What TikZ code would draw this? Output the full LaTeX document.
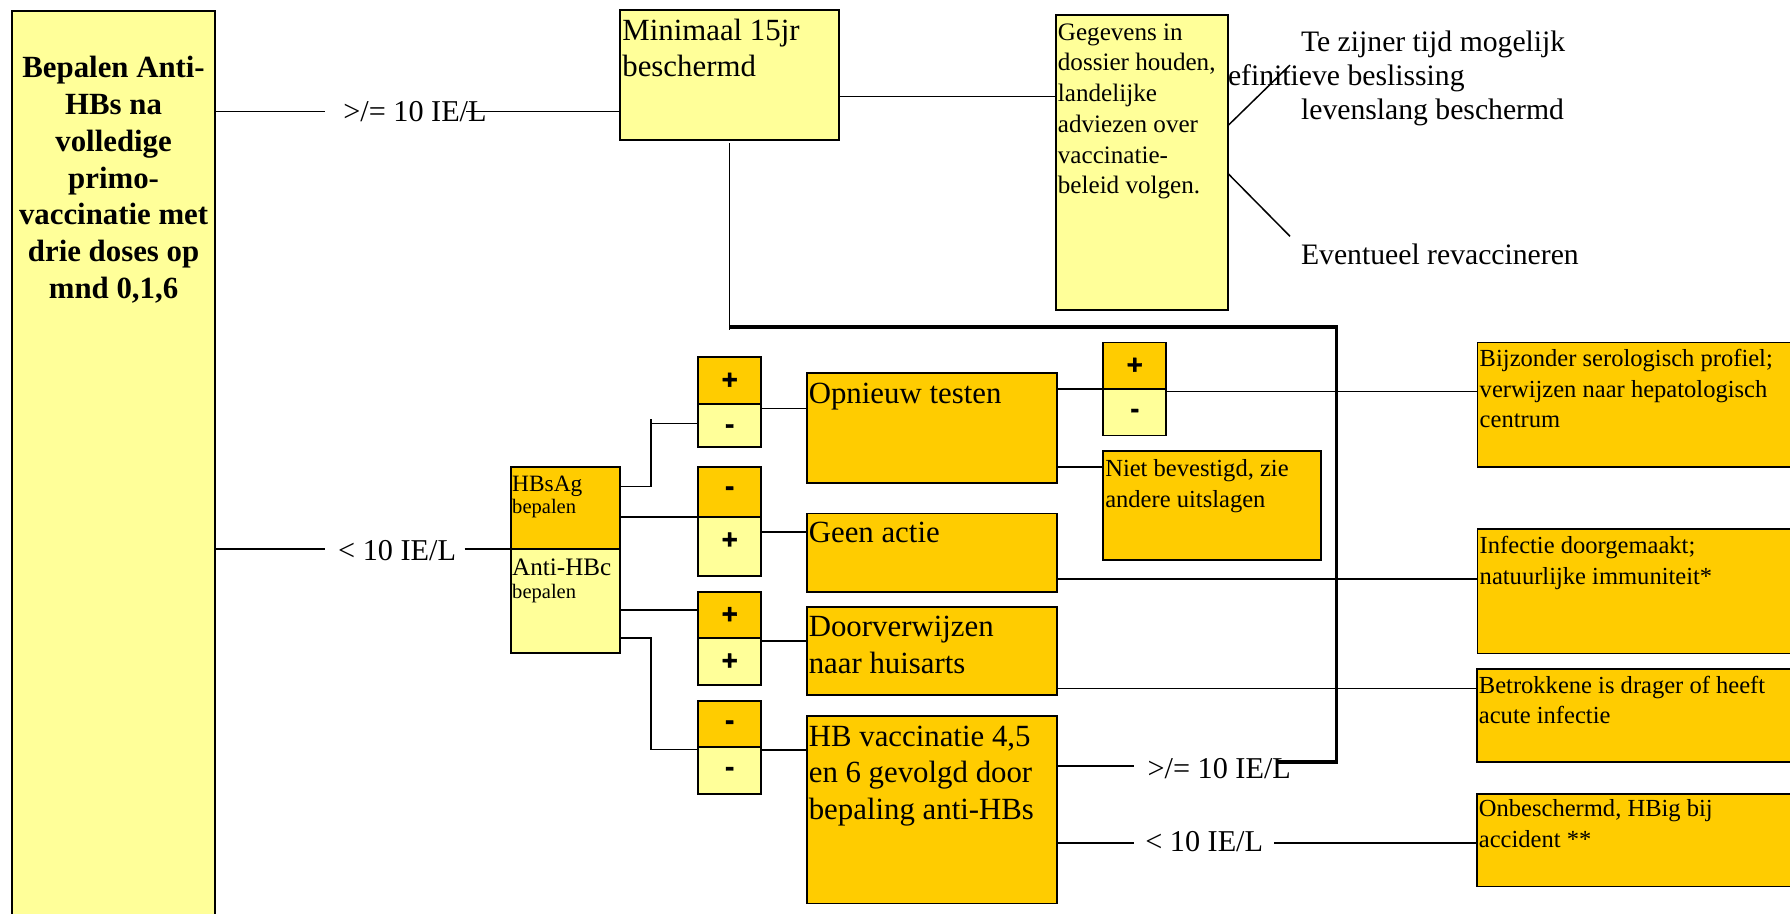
\documentclass[tikz,border=0pt]{standalone}
\usepackage{fontspec}
\setmainfont{Liberation Serif}
\newfontfamily\pmfont[FakeBold=1.6]{Liberation Sans Bold}
\definecolor{lyel}{HTML}{FFFF99}
\definecolor{oran}{HTML}{FFCC00}
\begin{document}
\begin{tikzpicture}[x=1pt,y=-1pt,
  box/.style={draw=black, line width=1.5pt, inner sep=0pt, outer sep=0pt, anchor=north west},
  yb/.style={box, fill=lyel},
  ob/.style={box, fill=oran},
  bigt/.style={anchor=north west, inner sep=0pt, align=left, font=\fontsize{27}{32}\selectfont},
  smlt/.style={anchor=north west, inner sep=0pt, align=left, font=\fontsize{21.5}{26.7}\selectfont},
  lbl/.style={anchor=base west, inner sep=0pt, font=\fontsize{26.5}{31}\selectfont},
  rtxt/.style={anchor=base west, inner sep=0pt, font=\fontsize{26}{31}\selectfont},
  conn/.style={line width=1.3pt},
  heavy/.style={line width=3pt, line join=miter},
  pmplus/.style={anchor=base, inner sep=0pt, yshift=-27.6pt, font=\pmfont\fontsize{24}{28}\selectfont},
  pmminus/.style={anchor=base, inner sep=0pt, yshift=-25.1pt, font=\pmfont\fontsize{24}{28}\selectfont}
]
\fill[white] (0,0) rectangle (1568,800);
\useasboundingbox (0,0) rectangle (1568,800);
\clip (0,0) rectangle (1568,800);

% free texts on the right (the d of definitieve hides behind the box)
\node[rtxt] (r1) at (1139.5,45.3) {Te zijner tijd mogelijk};
\node[rtxt] (r2) at (1062.5,74.5) {definitieve beslissing};
\node[rtxt] (r3) at (1139.5,105) {levenslang beschermd};
\node[rtxt] (r4) at (1139.5,232) {Eventueel revaccineren};

% boxes
\node[yb, minimum width=177.5pt, minimum height=830pt] (L) at (10.8,9.6) {};
\node[yb, minimum width=192pt, minimum height=113.8pt] (M) at (543,8.8) {};
\node[yb, minimum width=150.9pt, minimum height=258.4pt] (G) at (924.8,13.1) {};

\node[ob, minimum width=95.5pt, minimum height=72pt] (HB) at (447.5,409) {};
\node[yb, minimum width=95.5pt, minimum height=91.3pt] (AHB) at (447.5,481) {};

\node[ob, minimum width=54.9pt, minimum height=41.2pt] (g1a) at (611.7,313) {};
\node[yb, minimum width=54.9pt, minimum height=37.1pt] (g1b) at (611.7,354.2) {};
\node[ob, minimum width=54.9pt, minimum height=44.2pt] (g2a) at (611.7,408.8) {};
\node[yb, minimum width=54.9pt, minimum height=51.6pt] (g2b) at (611.7,453) {};
\node[ob, minimum width=54.9pt, minimum height=40.7pt] (g3a) at (611.7,518.3) {};
\node[yb, minimum width=54.9pt, minimum height=41pt] (g3b) at (611.7,559) {};
\node[ob, minimum width=54.9pt, minimum height=40.8pt] (g4a) at (611.7,613.8) {};
\node[yb, minimum width=54.9pt, minimum height=40.9pt] (g4b) at (611.7,654.6) {};

\node[ob, minimum width=219.4pt, minimum height=96pt] (O) at (706.6,327) {};
\node[ob, minimum width=219.4pt, minimum height=68.6pt] (GA) at (706.6,449.7) {};
\node[ob, minimum width=219.4pt, minimum height=77.6pt] (D) at (706.6,531.4) {};
\node[ob, minimum width=219.4pt, minimum height=164.3pt] (V) at (706.6,627.2) {};

\node[ob, minimum width=55.2pt, minimum height=40.9pt] (Pa) at (966.4,299.9) {};
\node[yb, minimum width=55.2pt, minimum height=40.8pt] (Pb) at (966.4,340.8) {};
\node[ob, minimum width=191pt, minimum height=95.5pt] (N) at (966.4,395) {};

\node[ob, minimum width=300pt, minimum height=108.9pt] (B) at (1294.3,299.9) {};
\node[ob, minimum width=300pt, minimum height=109.1pt] (I) at (1294.3,463.3) {};
\node[ob, minimum width=300pt, minimum height=81.2pt] (Bt) at (1293.5,586.3) {};
\node[ob, minimum width=300pt, minimum height=81.1pt] (On) at (1293.5,695.5) {};

% coordinates for connector bends and free ends
\coordinate (a1) at (284.3,97.8);
\coordinate (a2) at (408.5,97.8);
\coordinate (mg) at (800,84.7);
\coordinate (m2) at (638.7,289.5);
\coordinate (t1) at (700,286.5);
\coordinate (t2) at (1170.8,667.5);
\coordinate (t3) at (1118,667.5);
\coordinate (c1) at (284.7,481);
\coordinate (c2) at (407,481);
\coordinate (d1) at (570.4,426.3);
\coordinate (d2) at (570.4,367.3);
\coordinate (d3) at (570.4,370.8);
\coordinate (e1) at (600,534.3);
\coordinate (f1) at (570.4,559);
\coordinate (f2) at (570.4,656.5);
\coordinate (h1) at (680,357.7);
\coordinate (h2) at (680,466);
\coordinate (h3) at (680,561.5);
\coordinate (h4) at (680,657);
\coordinate (k0) at (1100,343);
\coordinate (k1) at (993.4,671);
\coordinate (k2) at (993.4,738.6);
\coordinate (k3) at (1116.4,738.6);
\coordinate (n1) at (940,409);
\coordinate (n2) at (1000,507);
\coordinate (n3) at (1000,603);
\coordinate (j1) at (1130,57);
\coordinate (j2) at (1130,207);
\coordinate (j1s) at (1000,110);
\coordinate (j2s) at (1000,152);

% connectors
\draw[conn] (L.east |- a1) -- (a1);
\draw[conn] (a2) -- (M.west |- a2);
\draw[conn] (M.east |- mg) -- (G.west |- mg);
\draw[conn] ([yshift=-2.5pt]M.south) -- (M.south |- m2);
\draw[heavy] (M.south |- t1) -| (t2) -- (t3);
\draw[conn] (G.east |- j1s) -- (j1);
\draw[conn] (G.east |- j2s) -- (j2);

\draw[conn] (L.east |- c1) -- (c1);
\draw[conn] (c2) -- (HB.south west);
\draw[conn] (HB.east |- d1) -- (d1) -- (d2);
\draw[conn] (d3) -- (g1b.west |- d3);
\draw[conn] (HB.east |- g2b.north) -- (g2b.north west);
\draw[conn] (AHB.east |- e1) -- (g3a.west |- e1);
\draw[conn] (AHB.east |- f1) -- (f1) -- (f2) -- (g4b.west |- f2);

\draw[conn] (g1b.east |- h1) -- (O.west |- h1);
\draw[conn] (g2b.east |- h2) -- (GA.west |- h2);
\draw[conn] (g3b.east |- h3) -- (D.west |- h3);
\draw[conn] (g4b.east |- h4) -- (V.west |- h4);

\draw[conn] (O.east |- Pb.north) -- (Pb.north west);
\draw[conn] (Pb.east |- k0) -- (B.west |- k0);
\draw[conn] (O.east |- n1) -- (N.west |- n1);
\draw[conn] (GA.east |- n2) -- (I.west |- n2);
\draw[conn] (D.east |- n3) -- (Bt.west |- n3);
\draw[conn] (V.east |- k1) -- (k1);
\draw[conn] (V.east |- k2) -- (k2);
\draw[conn] (k3) -- (On.west |- k3);

% labels on connectors
\node[lbl] (lab1) at (300.5,106.6) {>/= 10 IE/L};
\node[lbl] (lab2) at (296,490.6) {< 10 IE/L};
\node[lbl] (lab3) at (1005,681.8) {>/= 10 IE/L};
\node[lbl] (lab4) at (1003,746) {< 10 IE/L};

% texts in boxes
\node[anchor=north, inner sep=0pt, align=center, font=\bfseries\fontsize{27}{32.2}\selectfont] (Lt) at (99.5,45.5)
  {\strut Bepalen Anti-\\HBs na\\volledige\\primo-\\vaccinatie met\\drie doses op\\mnd 0,1,6};
\node[bigt] (Mt) at (545,12.6) {\strut Minimaal 15jr\\beschermd};
\node[anchor=north west, inner sep=0pt, align=left, font=\fontsize{22}{26.9}\selectfont] (Gt) at (926.5,16.2)
  {\strut Gegevens in\\dossier houden,\\landelijke\\adviezen over\\vaccinatie-\\beleid volgen.};

\node[anchor=base west, inner sep=0pt, font=\fontsize{20.5}{24}\selectfont] (HBt1) at (448.5,430.7) {HBsAg};
\node[anchor=base west, inner sep=0pt, font=\fontsize{18}{21}\selectfont] (HBt2) at (448.5,449.6) {bepalen};
\node[anchor=base west, inner sep=0pt, font=\fontsize{22}{26}\selectfont] (AHBt1) at (448.5,503.7) {Anti-HBc};
\node[anchor=base west, inner sep=0pt, font=\fontsize{18}{21}\selectfont] (AHBt2) at (448.5,524) {bepalen};

\node[pmplus] (s1) at (g1a.north) {+};
\node[pmminus] (s2) at (g1b.north) {-};
\node[pmminus] (s3) at (g2a.north) {-};
\node[pmplus] (s4) at (g2b.north) {+};
\node[pmplus] (s5) at (g3a.north) {+};
\node[pmplus] (s6) at (g3b.north) {+};
\node[pmminus] (s7) at (g4a.north) {-};
\node[pmminus] (s8) at (g4b.north) {-};
\node[pmplus] (s9) at (Pa.north) {+};
\node[pmminus] (s10) at (Pb.north) {-};

\node[bigt] (Ot) at (708.3,330.9) {\strut Opnieuw testen};
\node[bigt] (GAt) at (708.3,453) {\strut Geen actie};
\node[bigt] (Dt) at (708.3,535) {\strut Doorverwijzen\\naar huisarts};
\node[bigt] (Vt) at (708.3,631.1) {\strut HB vaccinatie 4,5\\en 6 gevolgd door\\bepaling anti-HBs};

\node[smlt] (Nt) at (968,398.8) {\strut Niet bevestigd, zie\\andere uitslagen};
\node[smlt] (Bt1) at (1296,302.5) {\strut Bijzonder serologisch profiel;\\verwijzen naar hepatologisch\\centrum};
\node[smlt] (It) at (1296,466) {\strut Infectie doorgemaakt;\\natuurlijke immuniteit*};
\node[smlt] (Btt) at (1295.3,588.6) {\strut Betrokkene is drager of heeft\\acute infectie};
\node[smlt] (Ont) at (1295.3,696.7) {\strut Onbeschermd, HBig bij\\accident **};
\end{tikzpicture}
\end{document}
